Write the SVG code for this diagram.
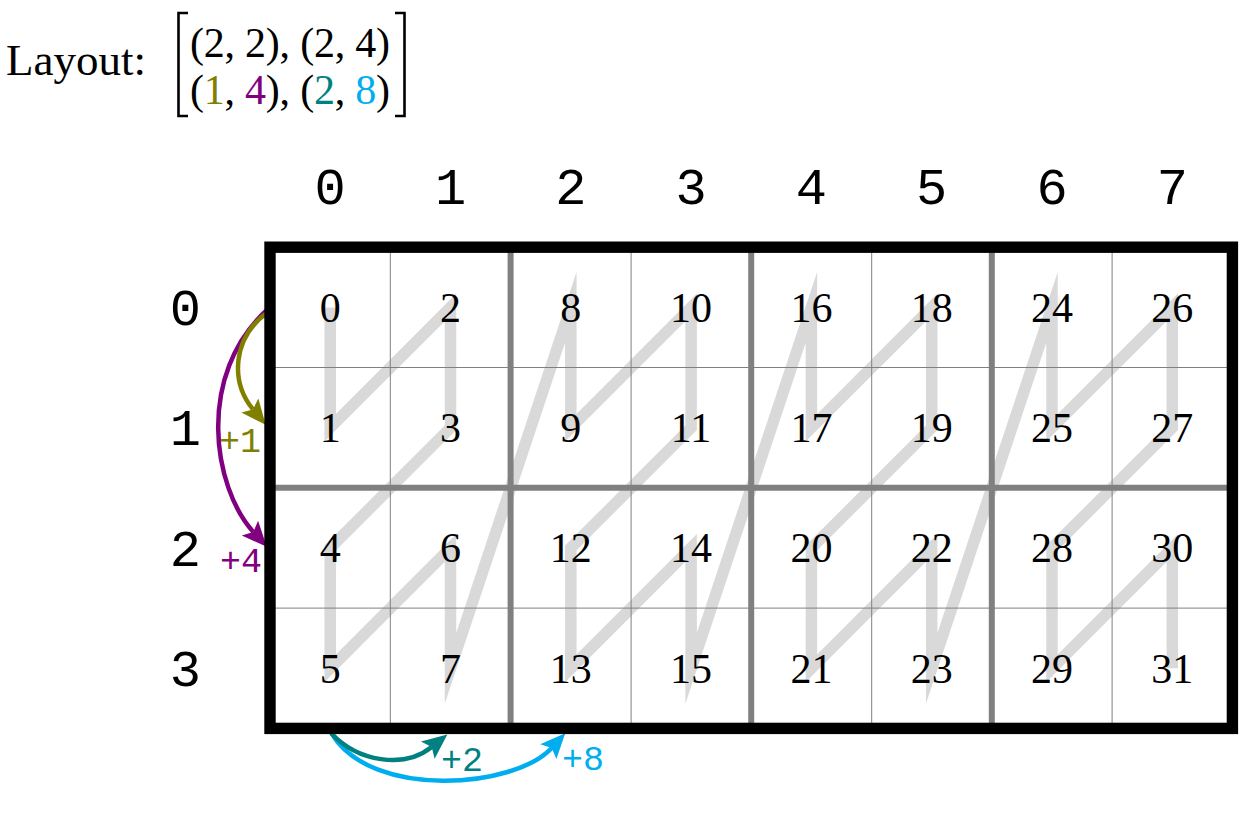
<svg xmlns="http://www.w3.org/2000/svg" width="1239" height="819" viewBox="0 0 1239 819">
<style>
.serif{font-family:"Liberation Serif","Times New Roman",serif;fill:#000}
.mono{font-family:"Liberation Mono","Courier New",monospace}
.cell{font-size:42px;text-anchor:middle}
.hdr{font-size:52px;text-anchor:middle;fill:#000}
.lbl{font-size:35px}
.thin{stroke:#808080;stroke-width:1;fill:none}
.thick{stroke:#808080;stroke-width:6;fill:none}
.arc{fill:none;stroke-width:4.5}
</style>
<defs>
<marker id="ah-olive" markerUnits="userSpaceOnUse" viewBox="0 0 25 22" markerWidth="25" markerHeight="22" refX="5" refY="11" orient="auto" overflow="visible"><path d="M0,0 L25,11 L0,22 L5,11 z" fill="#808000"/></marker>
<marker id="ah-purple" markerUnits="userSpaceOnUse" viewBox="0 0 25 22" markerWidth="25" markerHeight="22" refX="5" refY="11" orient="auto" overflow="visible"><path d="M0,0 L25,11 L0,22 L5,11 z" fill="#800080"/></marker>
<marker id="ah-teal" markerUnits="userSpaceOnUse" viewBox="0 0 25 22" markerWidth="25" markerHeight="22" refX="5" refY="11" orient="auto" overflow="visible"><path d="M0,0 L25,11 L0,22 L5,11 z" fill="#008080"/></marker>
<marker id="ah-cyan" markerUnits="userSpaceOnUse" viewBox="0 0 25 22" markerWidth="25" markerHeight="22" refX="5" refY="11" orient="auto" overflow="visible"><path d="M0,0 L25,11 L0,22 L5,11 z" fill="#00aeef"/></marker>
</defs>
<rect width="1239" height="819" fill="#fff"/>

<g id="layout-title">
<text class="serif" x="6" y="75" font-size="45">Layout:</text>
<path d="M188,13 H178.5 V116 H188" fill="none" stroke="#000" stroke-width="2.6"/>
<path d="M395,13 H404.5 V116 H395" fill="none" stroke="#000" stroke-width="2.6"/>
<text class="serif" x="190" y="57" font-size="42" textLength="200" lengthAdjust="spacing">(2, 2), (2, 4)</text>
<text class="serif" x="190" y="104" font-size="42" textLength="200" lengthAdjust="spacing">(<tspan fill="#808000">1</tspan>, <tspan fill="#800080">4</tspan>), (<tspan fill="#008080">2</tspan>, <tspan fill="#00aeef">8</tspan>)</text>
</g>

<g id="col-headers" class="mono">
<text class="hdr" x="330.2" y="204">0</text>
<text class="hdr" x="450.5" y="204">1</text>
<text class="hdr" x="570.8" y="204">2</text>
<text class="hdr" x="691.1" y="204">3</text>
<text class="hdr" x="811.4" y="204">4</text>
<text class="hdr" x="931.7" y="204">5</text>
<text class="hdr" x="1052" y="204">6</text>
<text class="hdr" x="1172.3" y="204">7</text>
</g>
<g id="row-headers" class="mono">
<text class="hdr" x="185.4" y="325">0</text>
<text class="hdr" x="185.4" y="445.3">1</text>
<text class="hdr" x="185.4" y="565.6">2</text>
<text class="hdr" x="185.4" y="685.9">3</text>
</g>

<rect x="270" y="247.2" width="962.4" height="481.2" fill="#fff"/>

<g id="traversal">
<polyline fill="none" stroke="#d9d9d9" stroke-width="11.5" stroke-linejoin="miter" stroke-miterlimit="10" stroke-linecap="butt"
points="330.2,307.4 330.2,427.7 450.5,307.4 450.5,427.7 330.2,548 330.2,668.3 450.5,548 450.5,668.3 570.8,307.4 570.8,427.7 691.1,307.4 691.1,427.7 570.8,548 570.8,668.3 691.1,548 691.1,668.3 811.4,307.4 811.4,427.7 931.7,307.4 931.7,427.7 811.4,548 811.4,668.3 931.7,548 931.7,668.3 1052,307.4 1052,427.7 1172.3,307.4 1172.3,427.7 1052,548 1052,668.3 1172.3,548 1172.3,668.3"/>
</g>

<g id="grid">
<path class="thin" d="M390.3,247.2 V728.4 M631.1,247.2 V728.4 M871.7,247.2 V728.4 M1112.1,247.2 V728.4 M270,367.5 H1232.4 M270,608.1 H1232.4"/>
<path class="thick" d="M510.6,247.2 V728.4 M751.2,247.2 V728.4 M991.8,247.2 V728.4 M270,487.8 H1232.4"/>
</g>

<g id="cells" class="serif">
<g id="cell-0"><text class="cell" x="330.2" y="321.6">0</text></g>
<g id="cell-1"><text class="cell" x="330.2" y="441.9">1</text></g>
<g id="cell-2"><text class="cell" x="450.5" y="321.6">2</text></g>
<g id="cell-3"><text class="cell" x="450.5" y="441.9">3</text></g>
<g id="cell-4"><text class="cell" x="330.2" y="562.2">4</text></g>
<g id="cell-5"><text class="cell" x="330.2" y="682.5">5</text></g>
<g id="cell-6"><text class="cell" x="450.5" y="562.2">6</text></g>
<g id="cell-7"><text class="cell" x="450.5" y="682.5">7</text></g>
<g id="cell-8"><text class="cell" x="570.8" y="321.6">8</text></g>
<g id="cell-9"><text class="cell" x="570.8" y="441.9">9</text></g>
<g id="cell-10"><text class="cell" x="691.1" y="321.6">10</text></g>
<g id="cell-11"><text class="cell" x="691.1" y="441.9">11</text></g>
<g id="cell-12"><text class="cell" x="570.8" y="562.2">12</text></g>
<g id="cell-13"><text class="cell" x="570.8" y="682.5">13</text></g>
<g id="cell-14"><text class="cell" x="691.1" y="562.2">14</text></g>
<g id="cell-15"><text class="cell" x="691.1" y="682.5">15</text></g>
<g id="cell-16"><text class="cell" x="811.4" y="321.6">16</text></g>
<g id="cell-17"><text class="cell" x="811.4" y="441.9">17</text></g>
<g id="cell-18"><text class="cell" x="931.7" y="321.6">18</text></g>
<g id="cell-19"><text class="cell" x="931.7" y="441.9">19</text></g>
<g id="cell-20"><text class="cell" x="811.4" y="562.2">20</text></g>
<g id="cell-21"><text class="cell" x="811.4" y="682.5">21</text></g>
<g id="cell-22"><text class="cell" x="931.7" y="562.2">22</text></g>
<g id="cell-23"><text class="cell" x="931.7" y="682.5">23</text></g>
<g id="cell-24"><text class="cell" x="1052" y="321.6">24</text></g>
<g id="cell-25"><text class="cell" x="1052" y="441.9">25</text></g>
<g id="cell-26"><text class="cell" x="1172.3" y="321.6">26</text></g>
<g id="cell-27"><text class="cell" x="1172.3" y="441.9">27</text></g>
<g id="cell-28"><text class="cell" x="1052" y="562.2">28</text></g>
<g id="cell-29"><text class="cell" x="1052" y="682.5">29</text></g>
<g id="cell-30"><text class="cell" x="1172.3" y="562.2">30</text></g>
<g id="cell-31"><text class="cell" x="1172.3" y="682.5">31</text></g>
</g>

<g id="connectors">
<path class="arc" stroke="#800080" d="M268,309 C195,375 213.1,487.5 253.3,531.9" marker-end="url(#ah-purple)"/>
<path class="arc" stroke="#808000" d="M268,312 C232,338 230.3,381.7 253,409.4" marker-end="url(#ah-olive)"/>
<path class="arc" stroke="#00aeef" d="M332,734 C372,800 515,788 551.7,748" marker-end="url(#ah-cyan)"/>
<path class="arc" stroke="#008080" d="M331,733 C358,762 404,769 431.7,747" marker-end="url(#ah-teal)"/>
<text class="mono lbl" x="261" y="452" text-anchor="end" fill="#808000">+1</text>
<text class="mono lbl" x="262" y="572" text-anchor="end" fill="#800080">+4</text>
<text class="mono lbl" x="441" y="771" fill="#008080">+2</text>
<text class="mono lbl" x="562" y="770" fill="#00aeef">+8</text>
</g>

<g id="border">
<rect x="270" y="247.2" width="962.4" height="481.2" fill="none" stroke="#000" stroke-width="11.4"/>
</g>
</svg>
